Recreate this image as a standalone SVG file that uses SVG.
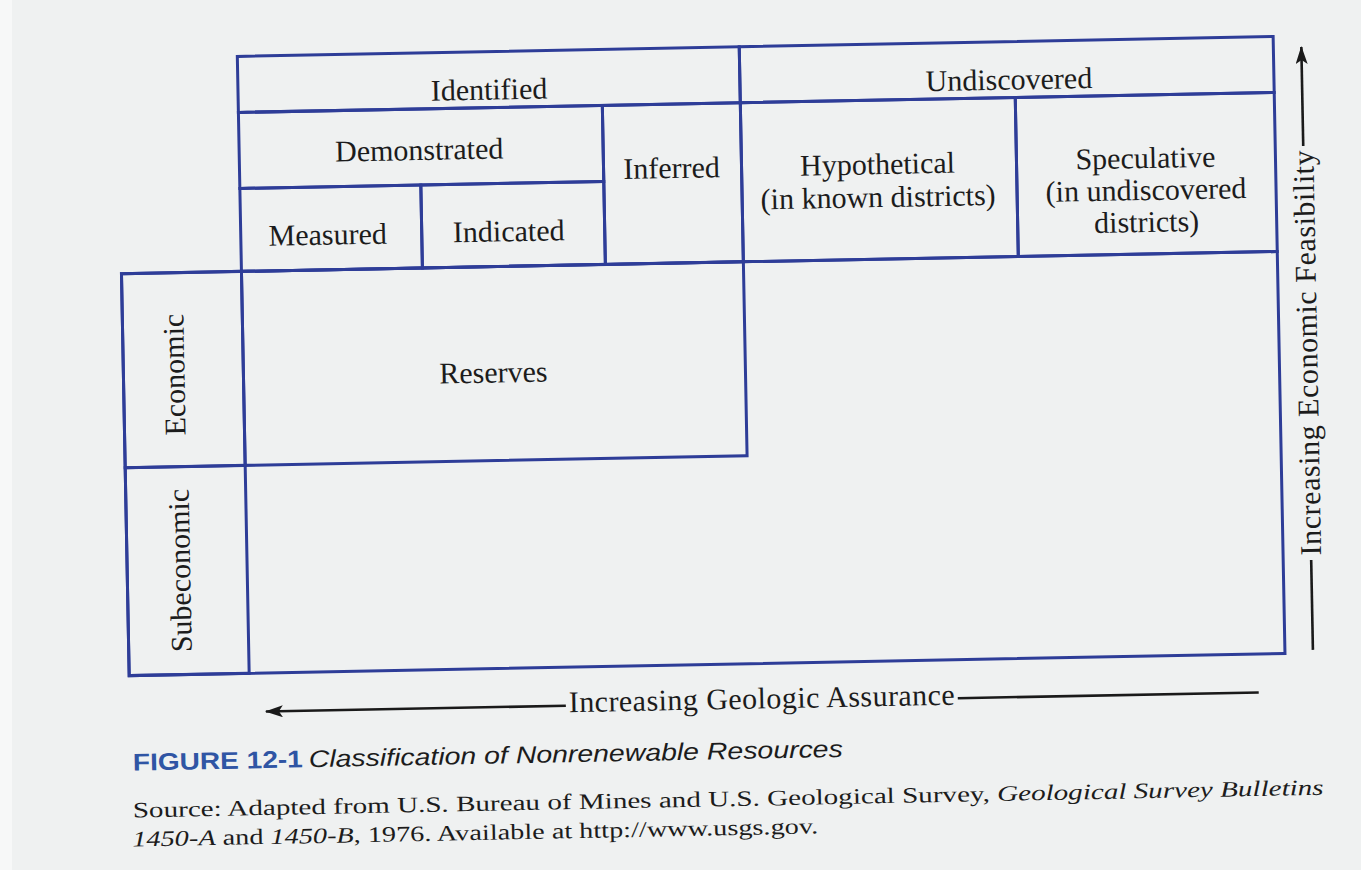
<svg xmlns="http://www.w3.org/2000/svg" width="1361" height="870" viewBox="0 0 1361 870">
<defs>
<style>
.cell{fill:none;stroke:#2e3d98;stroke-width:3}
.lbl{font-family:"Liberation Serif",serif;font-size:30px;fill:#1c1c1c;text-anchor:middle}
.axis{stroke:#1a1a1a;stroke-width:2.6;fill:none}
.cap{font-family:"Liberation Sans",sans-serif;font-size:24px}
.src{font-family:"Liberation Serif",serif;font-size:22px;fill:#1c1c1c}
</style>
<marker id="ah" viewBox="0 0 18 12" refX="17" refY="6" markerWidth="18" markerHeight="12" markerUnits="userSpaceOnUse" orient="auto"><path d="M0,0 L18,6 L0,12 L4,6 Z" fill="#1a1a1a"/></marker>
</defs>
<rect x="0" y="0" width="1361" height="870" fill="#eff1f1"/>
<rect x="0" y="0" width="12" height="870" fill="#f7f8f8"/>
<g transform="rotate(-1.1 680 400)">
<g id="frame"><rect class="cell" x="124" y="263" width="1156" height="402" fill="#f1f3f5"/></g>
<g id="identified"><rect class="cell" x="244" y="48" width="502" height="56"/><text class="lbl" x="495" y="96">Identified</text></g>
<g id="undiscovered"><rect class="cell" x="746" y="48" width="534" height="56"/><text class="lbl" x="1015" y="96">Undiscovered</text></g>
<g id="demonstrated"><rect class="cell" x="244" y="104" width="364" height="76"/><text class="lbl" x="424" y="155">Demonstrated</text></g>
<g id="measured"><rect class="cell" x="244" y="180" width="181" height="83"/><text class="lbl" x="331" y="238">Measured</text></g>
<g id="indicated"><rect class="cell" x="425" y="180" width="183" height="83"/><text class="lbl" x="512" y="238">Indicated</text></g>
<g id="inferred"><rect class="cell" x="608" y="104" width="138" height="159"/><text class="lbl" x="676" y="178">Inferred</text></g>
<g id="hypothetical"><rect class="cell" x="746" y="104" width="275" height="159"/><text class="lbl" x="882" y="178">Hypothetical</text><text class="lbl" x="882" y="211">(in known districts)</text></g>
<g id="speculative"><rect class="cell" x="1021" y="104" width="259" height="159"/><text class="lbl" x="1150" y="177">Speculative</text><text class="lbl" x="1150" y="209">(in undiscovered</text><text class="lbl" x="1150" y="241">districts)</text></g>
<g id="economic"><rect class="cell" x="124" y="263" width="120" height="194"/><text class="lbl" transform="translate(185 365) rotate(-90)">Economic</text></g>
<g id="subeconomic"><rect class="cell" x="124" y="457" width="120" height="208"/><text class="lbl" transform="translate(187 561) rotate(-90)">Subeconomic</text></g>
<g id="reserves"><rect class="cell" x="244" y="263" width="502" height="194"/><text class="lbl" x="494" y="379">Reserves</text></g>
<g id="connectors">
<line class="axis" x1="560" y1="703.5" x2="260" y2="703.5" marker-end="url(#ah)"/>
<line class="axis" x1="952" y1="703.5" x2="1253" y2="703.5"/>
<line class="axis" x1="1308" y1="662" x2="1308" y2="572"/>
<line class="axis" x1="1308" y1="158" x2="1308" y2="59" marker-end="url(#ah)"/>
</g>
<g id="axis-labels">
<text class="lbl" x="756" y="710" textLength="386">Increasing Geologic Assurance</text>
<text class="lbl" transform="translate(1318 365) rotate(-90)" textLength="405">Increasing Economic Feasibility</text>
</g>
<g id="caption">
<text class="cap" x="126" y="760"><tspan fill="#2f55a4" font-weight="bold" textLength="170" lengthAdjust="spacingAndGlyphs">FIGURE 12-1</tspan></text>
<text class="cap" x="302" y="760" font-style="italic" fill="#1c1c1c" textLength="534" lengthAdjust="spacingAndGlyphs">Classification of Nonrenewable Resources</text>
<text class="src" x="125" y="807" textLength="1191" lengthAdjust="spacingAndGlyphs">Source: Adapted from U.S. Bureau of Mines and U.S. Geological Survey, <tspan font-style="italic">Geological Survey Bulletins</tspan></text>
<text class="src" x="124" y="836" textLength="686" lengthAdjust="spacingAndGlyphs"><tspan font-style="italic">1450-A</tspan> and <tspan font-style="italic">1450-B</tspan>, 1976. Available at http://www.usgs.gov.</text>
</g>
</g>
</svg>
